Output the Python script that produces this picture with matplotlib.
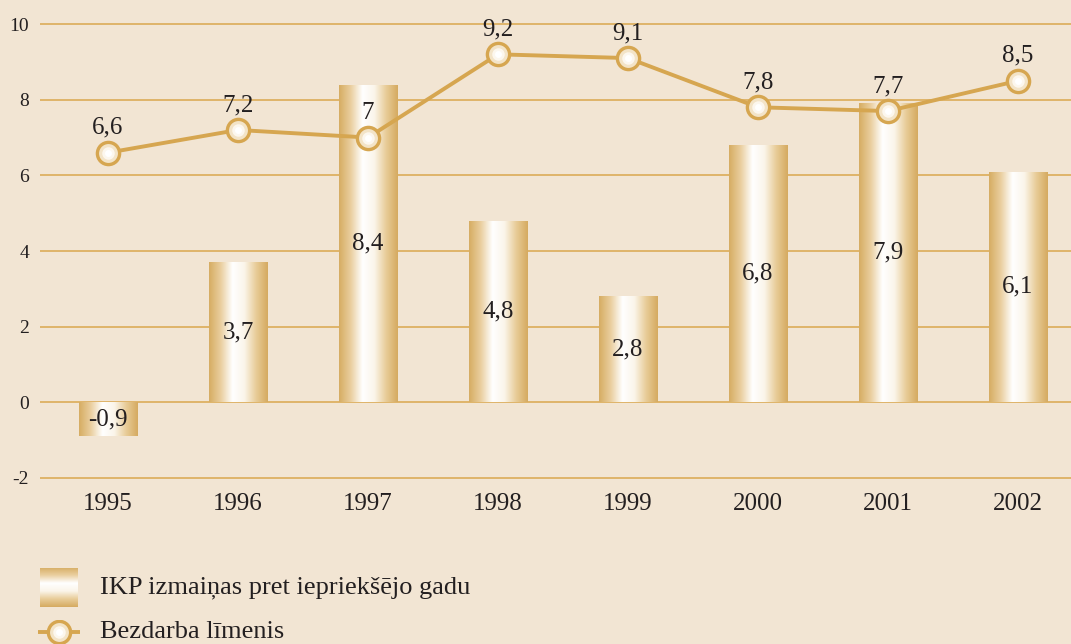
import matplotlib
matplotlib.use("Agg")
import matplotlib.pyplot as plt
import numpy as np
from matplotlib.colors import LinearSegmentedColormap
from matplotlib.lines import Line2D

years = ["1995", "1996", "1997", "1998", "1999", "2000", "2001", "2002"]
gdp_change = [-0.9, 3.7, 8.4, 4.8, 2.8, 6.8, 7.9, 6.1]
unemployment = [6.6, 7.2, 7.0, 9.2, 9.1, 7.8, 7.7, 8.5]
yticks = [-2, 0, 2, 4, 6, 8, 10]
legend_labels = ["IKP izmaiņas pret iepriekšējo gadu", "Bezdarba līmenis"]

BG = "#F2E5D3"
GOLD = "#D6A650"
GRID = "#DDB062"
TXT = "#231F20"
plt.rcParams['font.family'] = ['Liberation Serif', 'DejaVu Serif']

def fmt(v):
    s = f"{v:.1f}"
    if s.endswith(".0"):
        s = s[:-2]
    return s.replace(".", ",")

PX = 37.75  # pixels per unit
fig = plt.figure(figsize=(10.71, 6.44), dpi=100, facecolor=BG)
W, H = 1071, 644
ybot_px = 478 + 0.25 * PX
ax = fig.add_axes([40 / W, 1 - ybot_px / H, (W - 40) / W, ybot_px / H])
ax.set_facecolor(BG)
x = np.arange(len(years))
XL = (-68 / 130, (1071 - 108) / 130)
YL = (-2.25, 10 + 24 / PX)

for t in yticks:
    ax.axhline(t, color=GRID, lw=1.3, zorder=1)

cmap = LinearSegmentedColormap.from_list("g", ["#D6AC62", "#EACF9F", "#FFFFFF", "#FBF5EA", "#E8CC98", "#D5AA60"])
grad = np.linspace(0, 1, 256).reshape(1, -1)

bars = ax.bar(x, gdp_change, width=0.45, color="none", edgecolor="none", zorder=2)
for b in bars:
    x0, y0 = b.get_x(), b.get_y()
    w, h = b.get_width(), b.get_height()
    im = ax.imshow(grad, cmap=cmap, aspect="auto", extent=[x0, x0 + w, y0, y0 + h],
                   zorder=2, interpolation="bilinear")
    im.set_clip_path(b)
ax.set_xlim(*XL)
ax.set_ylim(*YL)

for xi, v in zip(x, gdp_change):
    ax.text(xi, v / 2, fmt(v), ha="center", va="center", fontsize=18, color=TXT, zorder=5)

ax.plot(x, unemployment, color=GOLD, lw=2.8, zorder=3)
ax.plot(x, unemployment, ls="none", marker="o", ms=16, mfc="#F3E4C8", mec=GOLD, mew=2.4, zorder=4)
ax.plot(x, unemployment, ls="none", marker="o", ms=9, mfc="#FCF7EE", mec="none", zorder=4)
ax.plot(x, unemployment, ls="none", marker="o", ms=5, mfc="#FFFFFF", mec="none", zorder=4)
for xi, v in zip(x, unemployment):
    ax.annotate(fmt(v), (xi, v), xytext=(0, 10), textcoords="offset points",
                ha="center", va="bottom", fontsize=18, color=TXT, zorder=5)

ax.set_yticks(yticks)
ax.set_yticklabels([str(t) for t in yticks], fontsize=14, color=TXT)
ax.set_xticks(x)
ax.set_xticklabels(years, fontsize=18, color=TXT)
ax.tick_params(length=0, axis="y", pad=8)
ax.tick_params(length=0, axis="x", pad=4)
for s in ax.spines.values():
    s.set_visible(False)

# legend
lax = fig.add_axes([40 / W, 1 - 607 / H, 38 / W, 39 / H])
lax.imshow(grad.T, cmap=cmap, aspect="auto", extent=[0, 1, 0, 1], interpolation="bilinear")
lax.axis("off")
fig.text(100 / W, 1 - 588 / H, legend_labels[0], fontsize=19, color=TXT, va="center")
lax2 = fig.add_axes([38 / W, 1 - 644 / H, 42 / W, 24 / H])
lax2.set_xlim(0, 1); lax2.set_ylim(0, 1)
lax2.axis("off")
lax2.add_line(Line2D([0, 1], [0.5, 0.5], color=GOLD, lw=2.8))
lax2.plot([0.5], [0.5], marker="o", ms=16, mfc="#F3E4C8", mec=GOLD, mew=2.4)
lax2.plot([0.5], [0.5], marker="o", ms=9, mfc="#FCF7EE", mec="none")
lax2.plot([0.5], [0.5], marker="o", ms=5, mfc="#FFFFFF", mec="none")
fig.text(100 / W, 1 - 632 / H, legend_labels[1], fontsize=19, color=TXT, va="center")

fig.savefig("out.png", dpi=100, facecolor=BG)
